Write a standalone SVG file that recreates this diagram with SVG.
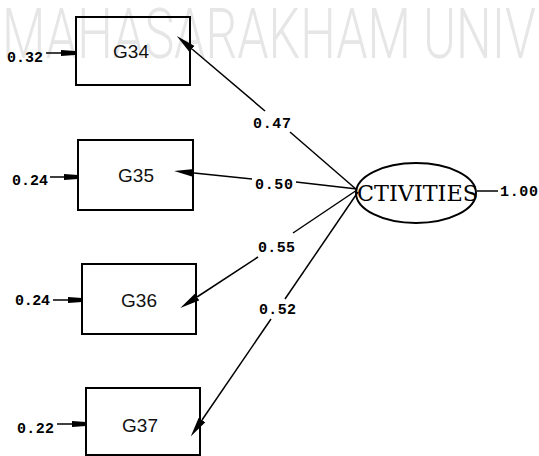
<svg xmlns="http://www.w3.org/2000/svg" width="539" height="456" viewBox="0 0 539 456">
<style>
.box{fill:none;stroke:#000;stroke-width:2}
.name{font-family:"Liberation Sans",Arial,sans-serif;font-size:19px;fill:#111;text-anchor:middle}
.num{font-family:"Liberation Mono","Courier New",monospace;font-size:15px;font-weight:bold;fill:#000}
.ln{stroke:#000;stroke-width:1.5;fill:none}
.wm{font-family:Roboto,"Liberation Sans",sans-serif;font-weight:300;font-size:70px;fill:#e6e6e6}
</style>
<defs>
<marker id="ah" markerUnits="userSpaceOnUse" markerWidth="20" markerHeight="10" refX="0" refY="4" orient="auto-start-reverse" viewBox="0 0 20 8">
<path d="M20,4 L0,0 L0,8 z" fill="#000"/>
</marker>
<marker id="eh" markerUnits="userSpaceOnUse" markerWidth="14" markerHeight="8" refX="14" refY="3" orient="auto" viewBox="0 0 14 6">
<path d="M0,0 L14,1 L14,5 L0,6 z" fill="#000"/>
</marker>
</defs>
<text class="wm" x="2" y="58" textLength="534" lengthAdjust="spacingAndGlyphs">MAHASARAKHAM UNIV</text>
<g id="connectors">
<path class="ln" marker-start="url(#ah)" d="M192,49 L265,111"/>
<path class="ln" d="M290,132 L357,190"/>
<path class="ln" marker-start="url(#ah)" d="M194,173 L252,179"/>
<path class="ln" d="M296,182 L357,189"/>
<path class="ln" marker-start="url(#ah)" d="M197,297 L258,257"/>
<path class="ln" d="M293,233 L357,190"/>
<path class="ln" marker-start="url(#ah)" d="M202,420 L271,319"/>
<path class="ln" d="M285,299 L358,192"/>
<path class="ln" d="M477,191 L498,191"/>
<path class="ln" marker-end="url(#eh)" d="M46,53 L75,53"/>
<path class="ln" marker-end="url(#eh)" d="M50,177 L78,177"/>
<path class="ln" marker-end="url(#eh)" d="M53,300 L82,300"/>
<path class="ln" marker-end="url(#eh)" d="M57,424 L86,424"/>
<text class="num" x="253" y="128" textLength="38">0.47</text>
<text class="num" x="255" y="189" textLength="38">0.50</text>
<text class="num" x="258" y="252" textLength="37">0.55</text>
<text class="num" x="259" y="314" textLength="37">0.52</text>
<text class="num" x="500" y="196" textLength="38">1.00</text>
</g>
<g id="G34">
<rect class="box" x="76" y="17" width="114" height="68"/>
<text class="name" x="131" y="58">G34</text>
<text class="num" x="7" y="62" textLength="36">0.32</text>
</g>
<g id="G35">
<rect class="box" x="78" y="140" width="115" height="70"/>
<text class="name" x="136" y="182">G35</text>
<text class="num" x="12" y="185" textLength="36">0.24</text>
</g>
<g id="G36">
<rect class="box" x="82" y="264" width="114" height="70"/>
<text class="name" x="139" y="307">G36</text>
<text class="num" x="15" y="305" textLength="35">0.24</text>
</g>
<g id="G37">
<rect class="box" x="86" y="388" width="114" height="67"/>
<text class="name" x="140" y="432">G37</text>
<text class="num" x="17" y="433" textLength="37">0.22</text>
</g>
<g id="ACTIVITIES">
<ellipse cx="416" cy="193" rx="60" ry="30" fill="none" stroke="#000" stroke-width="2"/>
<text x="357" y="201" textLength="121" lengthAdjust="spacingAndGlyphs" style="font-family:'DejaVu Serif','Liberation Serif',serif;font-size:22px;fill:#000">CTIVITIES</text>
</g>
</svg>
